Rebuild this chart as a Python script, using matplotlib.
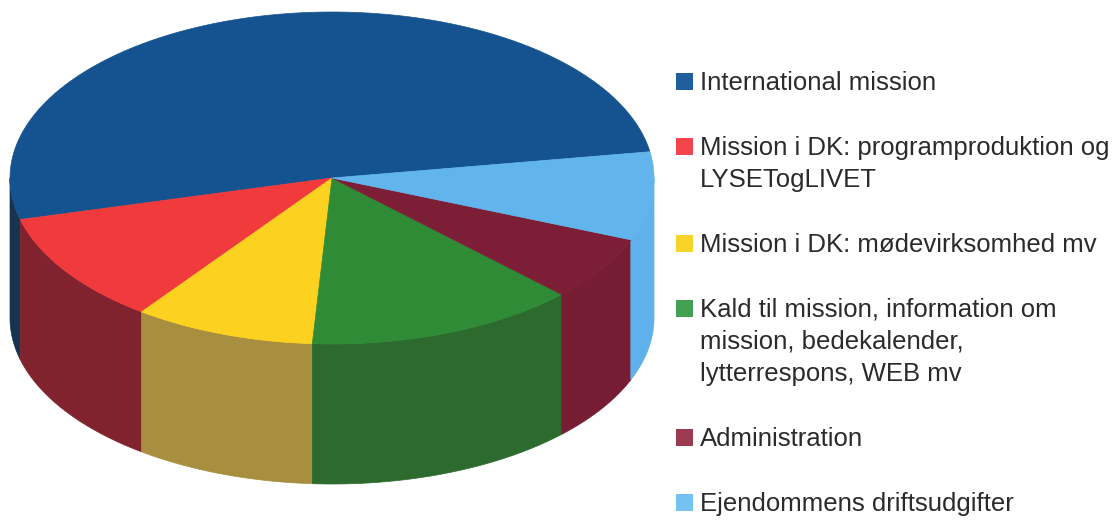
import numpy as np
import matplotlib.pyplot as plt
from matplotlib.patches import Polygon, Rectangle

labels = [
    "International mission",
    "Mission i DK: programproduktion og\nLYSETogLIVET",
    "Mission i DK: mødevirksomhed mv",
    "Kald til mission, information om\nmission, bedekalender,\nlytterrespons, WEB mv",
    "Administration",
    "Ejendommens driftsudgifter",
]
values = [51.5, 10.9, 9.1, 13.6, 6.3, 8.6]

top_colors = ["#14538f", "#f03a3c", "#fcd11f", "#2f8b36", "#7c1f36", "#62b5ec"]
side_colors = ["#17344f", "#80232f", "#a88e3f", "#2c6a2d", "#761d33", "#5eb1ea"]
legend_colors = ["#1f5f9e", "#f2454e", "#f8d42a", "#42a052", "#9c3a52", "#74c2f2"]

# pie geometry in pixels
cx, cy = 332, 178
rx, ry = 322, 166
depth = 140
start = 9.1

fig = plt.figure(figsize=(11.16, 5.2), dpi=100)
ax = fig.add_axes([0, 0, 1, 1])
ax.set_xlim(0, 1116)
ax.set_ylim(520, 0)
ax.axis("off")


def ring(t, dy=0):
    t = np.radians(t)
    return np.column_stack([cx + rx * np.cos(t), cy - ry * np.sin(t) + dy])


edges = start + np.concatenate([[0], np.cumsum(values)]) / sum(values) * 360

# side walls (front half only)
for i in range(len(values)):
    lo, hi = max(edges[i], 180), min(edges[i + 1], 360)
    if hi <= lo:
        continue
    ts = np.linspace(lo, hi, 80)
    pts = np.vstack([ring(ts), ring(ts[::-1], depth)])
    ax.add_patch(Polygon(pts, closed=True, fc=side_colors[i], ec=side_colors[i], lw=0.5))

# top faces
for i in range(len(values)):
    ts = np.linspace(edges[i], edges[i + 1], 120)
    pts = np.vstack([[cx, cy], ring(ts)])
    ax.add_patch(Polygon(pts, closed=True, fc=top_colors[i], ec=top_colors[i], lw=0.5))

# legend
y = 81
for lab, col in zip(labels, legend_colors):
    ax.add_patch(Rectangle((676, y - 8.5), 17, 17, fc=col, ec="none"))
    for line in lab.split("\n"):
        ax.text(700, y + 9, line, fontsize=18.5, family="Liberation Sans",
                color="#2b2b2b", va="baseline", ha="left")
        y += 32
    y += 33

fig.savefig("out.png", dpi=100)
